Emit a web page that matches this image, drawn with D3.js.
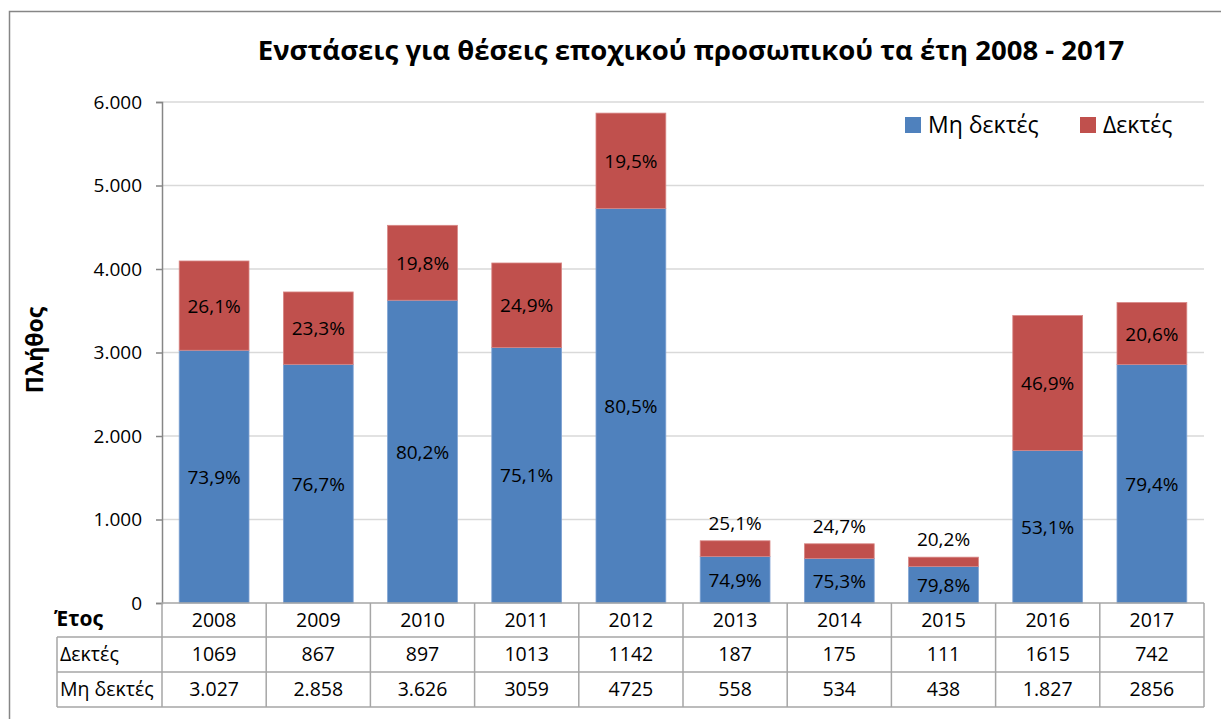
<!DOCTYPE html>
<html>
<head>
<meta charset="utf-8">
<script src="https://cdn.jsdelivr.net/npm/d3@7"></script>
<style>
  body { margin: 0; background: #fff; }
  text { font-family: "Open Sans", "Noto Sans", sans-serif; fill: #000; }
</style>
</head>
<body>
<script>
// chart data
const years = ['2008', '2009', '2010', '2011', '2012', '2013', '2014', '2015', '2016', '2017'];
const accepted = [1069, 867, 897, 1013, 1142, 187, 175, 111, 1615, 742];
const rejected = [3027, 2858, 3626, 3059, 4725, 558, 534, 438, 1827, 2856];
// table labels as printed under the chart
const acceptedLabels = ['1069', '867', '897', '1013', '1142', '187', '175', '111', '1615', '742'];
const rejectedLabels = ['3.027', '2.858', '3.626', '3059', '4725', '558', '534', '438', '1.827', '2856'];
const yTicks = [0, 1000, 2000, 3000, 4000, 5000, 6000];
const seriesNames = ['Μη δεκτές', 'Δεκτές'];

const W = 1221, H = 719;
const plot = { left: 162, right: 1204, top: 102, bottom: 603 };
const colors = { rejected: '#4F81BD', accepted: '#C0504D' };

const svg = d3.select('body').append('svg')
  .attr('width', W)
  .attr('height', H);

// outer chart border
svg.append('rect')
  .attr('x', 9.5).attr('y', 11.5)
  .attr('width', W).attr('height', H)
  .attr('fill', 'none')
  .attr('stroke', '#868686')
  .attr('stroke-width', 1.5);

const x = d3.scaleBand().domain(years)
  .range([plot.left, plot.right])
  .paddingInner(0.33).paddingOuter(0.165);
const y = d3.scaleLinear().domain([0, 6000]).range([plot.bottom, plot.top]);

// gridlines
svg.append('g').selectAll('line')
  .data(yTicks.filter(d => d > 0))
  .enter().append('line')
  .attr('x1', plot.left).attr('x2', plot.right)
  .attr('y1', d => y(d)).attr('y2', d => y(d))
  .attr('stroke', '#D9D9D9')
  .attr('stroke-width', 1.5);

// y axis
const yAxis = d3.axisLeft(y).tickValues(yTicks)
  .tickSize(6).tickPadding(14)
  .tickFormat(d => d3.format(',')(d).replace(/,/g, '.'));
const yg = svg.append('g')
  .attr('transform', 'translate(' + plot.left + ',0)')
  .call(yAxis);
yg.select('.domain').attr('stroke', '#868686').attr('stroke-width', 1.5);
yg.selectAll('.tick line').attr('stroke', '#868686').attr('stroke-width', 1.5);
yg.selectAll('.tick text')
  .style('font-size', '19px')
  .style('font-family', '"Open Sans", sans-serif')
  .attr('fill', '#000');

// stacked bars
const pct = (v, t) => (v / t * 100).toFixed(1).replace('.', ',') + '%';
const rows = years.map((yr, i) => ({
  year: yr,
  rej: rejected[i],
  acc: accepted[i],
  total: rejected[i] + accepted[i]
}));

const bars = svg.append('g');
bars.selectAll('.rej')
  .data(rows).enter().append('rect')
  .attr('class', 'rej')
  .attr('x', d => x(d.year))
  .attr('width', x.bandwidth())
  .attr('y', d => y(d.rej))
  .attr('height', d => y(0) - y(d.rej))
  .attr('fill', colors.rejected)
  .attr('stroke', '#7FA3D3').attr('stroke-width', 0.8);

bars.selectAll('.acc')
  .data(rows).enter().append('rect')
  .attr('class', 'acc')
  .attr('x', d => x(d.year))
  .attr('width', x.bandwidth())
  .attr('y', d => y(d.total))
  .attr('height', d => y(d.rej) - y(d.total))
  .attr('fill', colors.accepted)
  .attr('stroke', '#D88785').attr('stroke-width', 0.8);

// data labels
const labels = svg.append('g').style('font-size', '19px').attr('text-anchor', 'middle');
labels.selectAll('.lr')
  .data(rows).enter().append('text')
  .attr('x', d => x(d.year) + x.bandwidth() / 2)
  .attr('y', d => (y(0) + y(d.rej)) / 2 + 7)
  .text(d => pct(d.rej, d.total));
labels.selectAll('.la')
  .data(rows).enter().append('text')
  .attr('x', d => x(d.year) + x.bandwidth() / 2)
  .attr('y', d => {
    const hgt = y(d.rej) - y(d.total);
    return hgt < 30 ? y(d.total) - 11 : (y(d.rej) + y(d.total)) / 2 + 7;
  })
  .text(d => pct(d.acc, d.total));

// title
svg.append('text')
  .attr('x', 691).attr('y', 60)
  .attr('text-anchor', 'middle')
  .style('font-size', '27.5px')
  .style('font-weight', 'bold')
  .text('Ενστάσεις για θέσεις εποχικού προσωπικού τα έτη 2008 - 2017');

// y axis title
svg.append('text')
  .attr('transform', 'translate(43,350) rotate(-90)')
  .attr('text-anchor', 'middle')
  .style('font-size', '23px')
  .style('font-weight', 'bold')
  .text('Πλήθος');

// legend
const legend = svg.append('g');
const legendX = [905, 1080];
[colors.rejected, colors.accepted].forEach((c, i) => {
  legend.append('rect')
    .attr('x', legendX[i]).attr('y', 117)
    .attr('width', 16).attr('height', 16)
    .attr('fill', c);
  legend.append('text')
    .attr('x', legendX[i] + 23).attr('y', 133)
    .style('font-size', '23px')
    .text(seriesNames[i]);
});

// data table under the axis
const table = svg.append('g');
const rowY = [603, 637, 672, 707];
const tableLeft = 57;
const lineStyle = sel => sel.attr('stroke', '#A6A6A6').attr('stroke-width', 1.5);

// horizontal lines
table.append('line').attr('x1', plot.left).attr('x2', plot.right)
  .attr('y1', rowY[0]).attr('y2', rowY[0]).call(lineStyle);
rowY.slice(1).forEach(ry => {
  table.append('line').attr('x1', tableLeft).attr('x2', plot.right)
    .attr('y1', ry).attr('y2', ry).call(lineStyle);
});
// vertical lines between columns
const colEdges = years.map(yr => x(yr) - x.step() * x.paddingInner() / 2).concat([plot.right]);
colEdges[0] = plot.left;
colEdges.forEach(cx => {
  table.append('line').attr('x1', cx).attr('x2', cx)
    .attr('y1', rowY[0]).attr('y2', rowY[3]).call(lineStyle);
});
table.append('line').attr('x1', tableLeft).attr('x2', tableLeft)
  .attr('y1', rowY[1]).attr('y2', rowY[3]).call(lineStyle);

const cellText = table.append('g').style('font-size', '19.5px').attr('text-anchor', 'middle');
[years, acceptedLabels, rejectedLabels].forEach((vals, r) => {
  cellText.selectAll('.r' + r)
    .data(vals).enter().append('text')
    .attr('x', (d, i) => x(years[i]) + x.bandwidth() / 2)
    .attr('y', rowY[r] + 24)
    .text(d => d);
});

table.append('text')
  .attr('x', 54).attr('y', 626)
  .style('font-size', '21px').style('font-weight', 'bold')
  .text('Έτος');
table.append('text')
  .attr('x', 60).attr('y', rowY[1] + 24)
  .style('font-size', '19.5px')
  .text('Δεκτές');
table.append('text')
  .attr('x', 60).attr('y', rowY[2] + 24)
  .style('font-size', '19.5px')
  .text('Μη δεκτές');
</script>
</body>
</html>
